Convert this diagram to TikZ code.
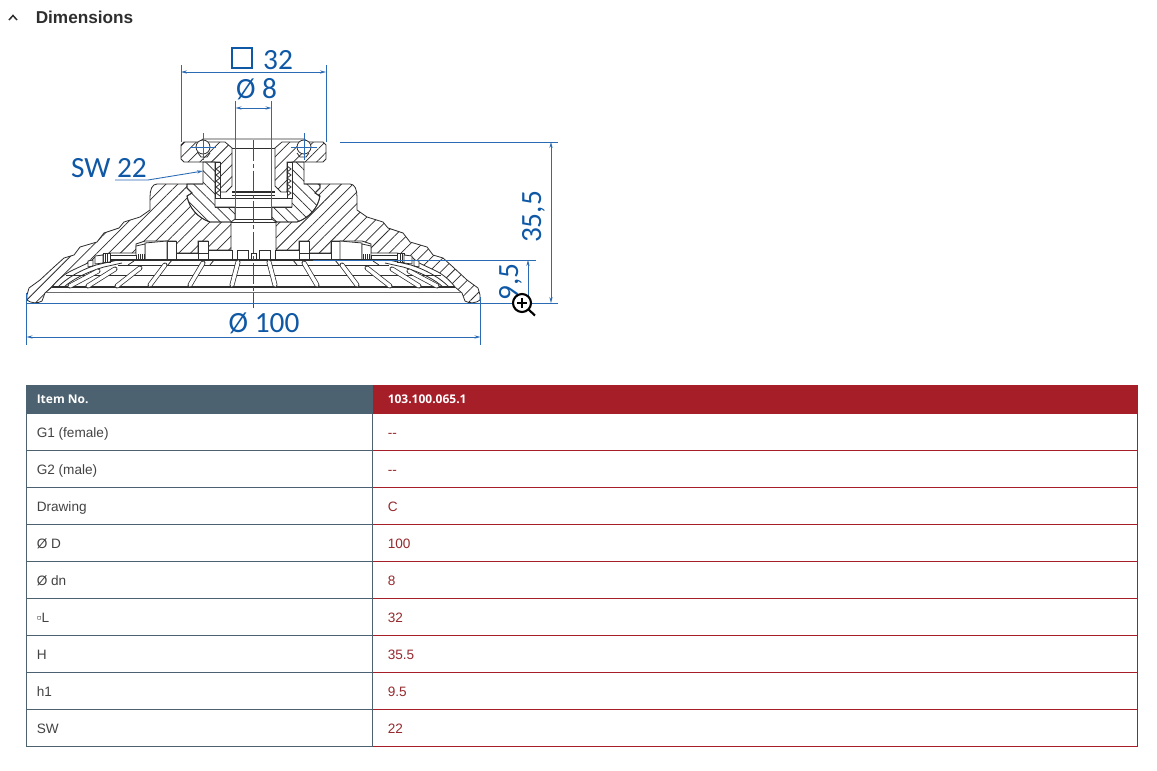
\documentclass[tikz,border=0pt]{standalone}
\usepackage{fontspec}
\usepackage{xcolor}
\setmainfont{Liberation Sans}
\newfontfamily\dimfont{Carlito}
\newfontfamily\headfont{Open Sans}
\usetikzlibrary{arrows.meta,patterns.meta}

\definecolor{slatecol}{HTML}{4D6270}
\definecolor{redcol}{HTML}{A51E28}
\definecolor{valcol}{HTML}{962A2E}
\definecolor{dimcol}{HTML}{0F58A6}
\definecolor{extcol}{HTML}{2B6BB3}
\definecolor{inkcol}{HTML}{2E2E2E}

\tikzset{
  mirror/.style={xshift=380.25pt,xscale=-1},
  ink/.style={draw=inkcol,line width=0.6pt},
  inkthick/.style={draw=inkcol,line width=1.05pt},
  rubber/.style={ink,pattern={Lines[angle=45,distance=6.2pt,line width=0.55pt]},pattern color=inkcol},
  metal/.style={ink,pattern={Lines[angle=-45,distance=6pt,line width=0.55pt]},pattern color=inkcol},
  rib/.style={draw=inkcol,line width=0.55pt,double=white,double distance=2.6pt,line cap=round},
  extline/.style={draw=extcol,line width=0.65pt},
  dimline/.style={draw=extcol,line width=0.55pt,{Stealth[length=4.5pt,width=2.4pt]}-{Stealth[length=4.5pt,width=2.4pt]}},
  dimtext/.style={text=dimcol,inner sep=0pt,anchor=base,font=\dimfont\fontsize{22}{26}\selectfont},
  labeltext/.style={text=inkcol!90,inner sep=0pt,anchor=base west,font=\fontsize{10.2}{12}\selectfont},
  valtext/.style={text=valcol,inner sep=0pt,anchor=base west,font=\fontsize{10.2}{12}\selectfont},
  headtext/.style={text=white,inner sep=0pt,anchor=base west,font=\headfont\bfseries\fontsize{9}{11}\selectfont},
  leftrule/.style={draw=slatecol,line width=0.75pt},
  rightrule/.style={draw=redcol,line width=0.75pt},
}

% left half of the gripper, used twice
\newcommand{\halfbody}{
% rubber bellows
\draw [rubber] (203,184) -- (157,184) .. controls (152,184) and (150,190) .. (150,197) -- (150,210) -- (140,217) -- (124,222) -- (119,228) -- (104,233) -- (97,242) -- (80,247) -- (74,255) -- (64,258) -- (54,267) -- (40,280) -- (29,288) -- (27,295) -- (27,300) .. controls (30,303) and (38,304) .. (42,301) -- (45,293) -- (52,287) .. controls (58,279) and (66,273) .. (73,270) -- (90,262) -- (95,257) -- (110,253) -- (136,253) -- (136,244) -- (145,241) -- (176,241) -- (176,253) -- (198,253) -- (198,241) -- (208,241) -- (208,250) -- (231,250) -- (231,222) -- (210,222) .. controls (198,218) and (189,208) .. (187,196) -- (192,193) -- (187,188) -- (187,184) -- cycle ;
% metal insert and flange
\draw [metal] (203,162) -- (215,162) -- (215,207) -- (235,207) -- (235,219) -- (231,222) -- (210,222) .. controls (198,218) and (189,208) .. (187,196) -- (192,193) -- (187,188) -- (187,184) -- (203,184) -- cycle ;
\draw [rubber] (184,142) -- (225,142) -- (232,148) -- (232,186) -- (226,192) -- (220,192) -- (220,162) -- (184,162) -- (181,159) -- (181,145) -- cycle ;
\draw [ink] (199,142) -- (203,139) -- (253.5,139) ;
\draw [ink,fill=white] (203,147) circle [radius=7] ;
\draw [ink] (198,153) -- (201,157) -- (207,157) -- (210,153) ;
% thread
\draw [ink,fill=white] (215,162) -- (220,162) -- (220,198) -- (215,198) -- cycle ;
\draw [ink] (220,166) -- (216,169) -- (220,172) -- (216,175) -- (220,178) -- (216,181) -- (220,184) -- (216,187) -- (220,190) -- (216,193) -- (220,196) ;
% bore and lower insert
\draw [inkthick] (232,192) -- (253.5,192) ;
\draw [ink] (232,148) -- (253.5,148) ;
\draw [ink] (232,195) -- (253.5,195) ;
\draw [ink] (215,198) -- (253.5,198) ;
\draw [ink] (215,207) -- (253.5,207) ;
\draw [ink] (235,219) -- (253.5,219) ;
\draw [ink] (231,222) -- (253.5,222) ;
% blocks under the body
\draw [ink,fill=white] (237,250) -- (248,250) -- (248,259) -- (237,259) -- cycle ;
\draw [ink] (253.5,253) -- (251,253) -- (251,260) ;
\draw [ink,fill=white] (208,250) -- (232,250) -- (232,259) -- (208,259) -- cycle ;
\draw [ink,fill=white] (198,241) -- (208,241) -- (208,253) -- (198,253) -- cycle ;
\draw [ink,fill=white] (176,253) -- (198,253) -- (198,260) -- (176,260) -- cycle ;
\draw [ink,fill=white] (167,241) -- (176,241) -- (176,260) -- (167,260) -- cycle ;
\draw [ink,fill=white] (145,243) -- (167,241) -- (167,260) -- (145,260) -- cycle ;
\draw [ink,fill=white] (136,246) -- (145,244) -- (145,260) -- (136,260) -- cycle ;
\draw [ink] (138,254) -- (138,260) (140,254) -- (140,260) (142,254) -- (142,260) (144,254) -- (144,260) ;
\draw [ink,fill=white] (110,255) -- (136,255) -- (136,260) -- (110,260) -- cycle ;
\draw [ink,fill=white] (103,253) -- (110,253) -- (110,262) -- (103,262) -- cycle ;
\draw [ink] (105,253) -- (105,262) (107,253) -- (107,262) ;
\draw [ink,fill=white] (95,256) -- (103,255) -- (103,263) -- (95,264) -- cycle ;
\draw [ink,fill=white] (88,261) -- (93,260) -- (93,266) -- (88,267) -- cycle ;
% grid of the suction plate
\draw [inkthick] (110,260) -- (253.5,260) ;
\draw [ink] (118,265) -- (253.5,265) ;
\draw [ink] (66,275) -- (253.5,275) ;
\draw [inkthick] (52,287) -- (253.5,287) ;
\draw [draw=inkcol!70,line width=0.6pt] (46,292) -- (253.5,292) ;
\draw [ink] (58,287) .. controls (66,279) and (78,271) .. (96,265) -- (118,260) ;
\draw [ink] (64,287) .. controls (72,280) and (84,273) .. (104,267) -- (122,263) ;
\draw [rib] (232,285) -- (238,262) ;
\draw [rib] (190,285) -- (203,263) ;
\draw [rib] (150,285) -- (165,265) ;
\draw [rib] (117,286) -- (140,268) ;
\draw [rib] (88,286) -- (115,269) ;
\draw [rib] (70,286) -- (98,271) ;
\draw [ink] (214,260) -- (210,265) (172,260) -- (168,265) (134,261) -- (128,265) ;
}

\begin{document}
\begin{tikzpicture}[x=0.75pt,y=0.75pt,yscale=-1,xscale=1]

\useasboundingbox (0,0) rectangle (1157,771);
\fill [white] (0,0) rectangle (1157,771);

% heading
\draw [draw=inkcol,line width=1.1pt] (9,20) -- (13,15.5) -- (17,20) ;
\draw (35.5,23) node (title) [text=inkcol,inner sep=0pt,anchor=base west,font=\bfseries\fontsize{12.9}{15}\selectfont] {Dimensions};

% gripper
\begin{scope}
\halfbody
\end{scope}
\begin{scope}[mirror]
\halfbody
\end{scope}

% dimensions
\draw [extline] (181,65) -- (181,142) ;
\draw [extline] (326,65) -- (326,142) ;
\draw [dimline] (181,72) -- (326,72) ;
\draw [draw=dimcol,line width=1.5pt] (231.5,47.5) -- (251.5,47.5) -- (251.5,67.5) -- (231.5,67.5) -- cycle ;
\draw (278,69) node (sqlen) [dimtext] {32};

\draw [extline] (235.5,101) -- (235.5,219) ;
\draw [extline] (271.5,101) -- (271.5,219) ;
\draw [dimline] (235.5,108) -- (271.5,108) ;
\draw (256.5,98) node (bore) [dimtext] {Ø 8};

\draw [draw=dimcol,line width=0.8pt,dash pattern=on 16pt off 2pt on 3pt off 2pt] (253.5,140) -- (253.5,308) ;

\draw [extline] (190,147) -- (216,147) ;
\draw [extline] (203,133) -- (203,160) ;
\draw [extline] (291,147) -- (317,147) ;
\draw [extline] (304,133) -- (304,160) ;

\draw [extline,-{Stealth[length=4.5pt,width=2.4pt]}] (115,180) -- (148,180) -- (203,171) ;
\draw (109,177) node (wrench) [dimtext] {SW 22};

\draw [extline] (340,142) -- (558,142) ;
\draw [extline] (27,303) -- (558,303) ;
\draw [dimline] (551,142) -- (551,303) ;
\draw (541,217) node (height) [dimtext,rotate=90] {35,5};

\draw [extline] (313,260) -- (536,260) ;
\draw [dimline] (528,260) -- (528,303) ;
\draw (518,282) node (lipheight) [dimtext,rotate=90] {9,5};

\draw [extline] (26.5,293) -- (26.5,345) ;
\draw [extline] (480.5,297) -- (480.5,345) ;
\draw [dimline] (26.5,337) -- (480.5,337) ;
\draw (264,332) node (outer) [dimtext] {Ø 100};

% magnifier
\draw [draw=black,line width=1.6pt,fill=white] (522,303) circle [radius=9] ;
\draw [draw=black,line width=1.6pt] (528.5,309.5) -- (535,315.5) ;
\draw [draw=black,line width=1.3pt] (517,303) -- (527,303) ;
\draw [draw=black,line width=1.3pt] (522,298) -- (522,308) ;

% table
\fill [slatecol] (26,385) rectangle (372.5,414) ;
\fill [redcol] (372.5,385) rectangle (1138,414) ;
\draw [leftrule] (26.5,414) -- (26.5,746.5) -- (372.5,746.5) -- (372.5,414) ;
\draw [leftrule] (26.5,450.5) -- (372.5,450.5) ;
\draw [leftrule] (26.5,487.5) -- (372.5,487.5) ;
\draw [leftrule] (26.5,524.5) -- (372.5,524.5) ;
\draw [leftrule] (26.5,561.5) -- (372.5,561.5) ;
\draw [leftrule] (26.5,598.5) -- (372.5,598.5) ;
\draw [leftrule] (26.5,635.5) -- (372.5,635.5) ;
\draw [leftrule] (26.5,672.5) -- (372.5,672.5) ;
\draw [leftrule] (26.5,709.5) -- (372.5,709.5) ;
\draw [rightrule] (372.9,746.5) -- (1137.5,746.5) -- (1137.5,414) ;
\draw [rightrule] (372.9,450.5) -- (1137.5,450.5) ;
\draw [rightrule] (372.9,487.5) -- (1137.5,487.5) ;
\draw [rightrule] (372.9,524.5) -- (1137.5,524.5) ;
\draw [rightrule] (372.9,561.5) -- (1137.5,561.5) ;
\draw [rightrule] (372.9,598.5) -- (1137.5,598.5) ;
\draw [rightrule] (372.9,635.5) -- (1137.5,635.5) ;
\draw [rightrule] (372.9,672.5) -- (1137.5,672.5) ;
\draw [rightrule] (372.9,709.5) -- (1137.5,709.5) ;

\draw (36.5,403.5) node (itemkey) [headtext] {Item No.};
\draw (387.5,403.5) node (itemval) [headtext] {103.100.065.1};

\draw (36.5,437) node (gonekey) [labeltext] {G1 (female)};
\draw (36.5,474) node (gtwokey) [labeltext] {G2 (male)};
\draw (36.5,511) node (drawkey) [labeltext] {Drawing};
\draw (36.5,548) node (dkey) [labeltext] {Ø D};
\draw (36.5,585) node (dnkey) [labeltext] {Ø dn};
\draw (36.5,622) node (lkey) [labeltext] {▫L};
\draw (36.5,659) node (hkey) [labeltext] {H};
\draw (36.5,696) node (honekey) [labeltext] {h1};
\draw (36.5,733) node (swkey) [labeltext] {SW};

\draw (387.5,437) node (goneval) [valtext] {-{}-};
\draw (387.5,474) node (gtwoval) [valtext] {-{}-};
\draw (387.5,511) node (drawval) [valtext] {C};
\draw (387.5,548) node (dval) [valtext] {100};
\draw (387.5,585) node (dnval) [valtext] {8};
\draw (387.5,622) node (lval) [valtext] {32};
\draw (387.5,659) node (hval) [valtext] {35.5};
\draw (387.5,696) node (honeval) [valtext] {9.5};
\draw (387.5,733) node (swval) [valtext] {22};

\end{tikzpicture}
\end{document}
